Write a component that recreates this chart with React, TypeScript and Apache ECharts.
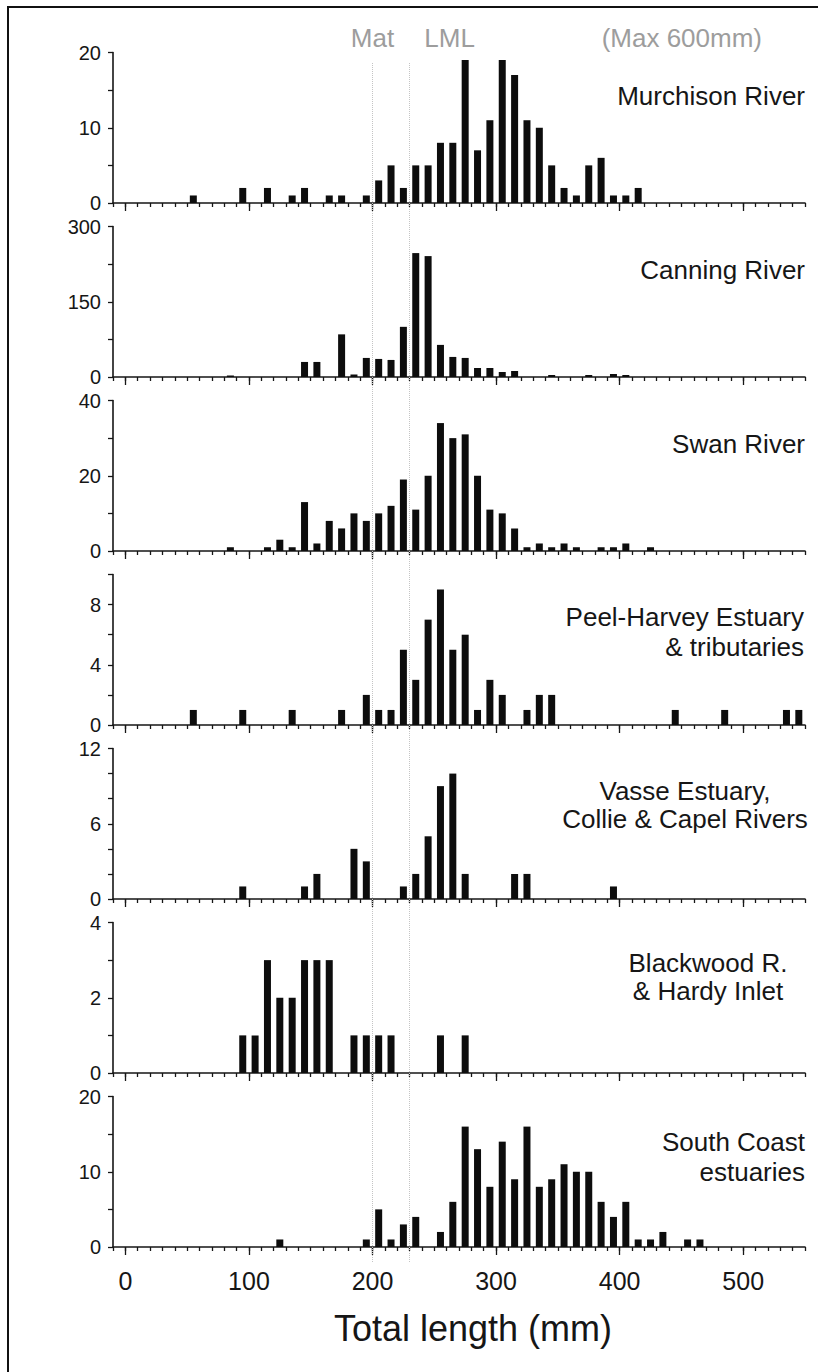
import { useEffect, useRef } from 'react';
import * as echarts from 'echarts';

// ---- Data: bin centres (mm, 10 mm bins) and counts per panel ----
const murchisonLengths = [55, 95, 115, 135, 145, 165, 175, 195, 205, 215, 225, 235, 245, 255, 265, 275, 285, 295, 305, 315, 325, 335, 345, 355, 365, 375, 385, 395, 405, 415];
const murchisonCounts = [1, 2, 2, 1, 2, 1, 1, 1, 3, 5, 2, 5, 5, 8, 8, 19, 7, 11, 19, 17, 11, 10, 5, 2, 1, 5, 6, 1, 1, 2];

const canningLengths = [85, 145, 155, 175, 185, 195, 205, 215, 225, 235, 245, 255, 265, 275, 285, 295, 305, 315, 345, 375, 395, 405];
const canningCounts = [3, 30, 30, 85, 5, 38, 36, 34, 100, 247, 241, 64, 40, 38, 18, 18, 10, 12, 4, 4, 6, 4];

const swanLengths = [85, 115, 125, 135, 145, 155, 165, 175, 185, 195, 205, 215, 225, 235, 245, 255, 265, 275, 285, 295, 305, 315, 325, 335, 345, 355, 365, 385, 395, 405, 425];
const swanCounts = [1, 1, 3, 1, 13, 2, 8, 6, 10, 8, 10, 12, 19, 11, 20, 34, 30, 31, 20, 11, 10, 6, 1, 2, 1, 2, 1, 1, 1, 2, 1];

const peelLengths = [55, 95, 135, 175, 195, 205, 215, 225, 235, 245, 255, 265, 275, 285, 295, 305, 325, 335, 345, 445, 485, 535, 545];
const peelCounts = [1, 1, 1, 1, 2, 1, 1, 5, 3, 7, 9, 5, 6, 1, 3, 2, 1, 2, 2, 1, 1, 1, 1];

const vasseLengths = [95, 145, 155, 185, 195, 225, 235, 245, 255, 265, 275, 315, 325, 395];
const vasseCounts = [1, 1, 2, 4, 3, 1, 2, 5, 9, 10, 2, 2, 2, 1];

const blackwoodLengths = [95, 105, 115, 125, 135, 145, 155, 165, 185, 195, 205, 215, 255, 275];
const blackwoodCounts = [1, 1, 3, 2, 2, 3, 3, 3, 1, 1, 1, 1, 1, 1];

const southCoastLengths = [125, 195, 205, 215, 225, 235, 255, 265, 275, 285, 295, 305, 315, 325, 335, 345, 355, 365, 375, 385, 395, 405, 415, 425, 435, 455, 465];
const southCoastCounts = [1, 1, 5, 1, 3, 4, 2, 6, 16, 13, 8, 14, 9, 16, 8, 9, 11, 10, 10, 6, 4, 6, 1, 1, 2, 1, 1];

const panelLengths = [murchisonLengths, canningLengths, swanLengths, peelLengths, vasseLengths, blackwoodLengths, southCoastLengths];
const panelCounts = [murchisonCounts, canningCounts, swanCounts, peelCounts, vasseCounts, blackwoodCounts, southCoastCounts];

const panelNames = [
  'Murchison River',
  'Canning River',
  'Swan River',
  'Peel-Harvey Estuary\n& tributaries',
  'Vasse Estuary,\nCollie & Capel Rivers',
  'Blackwood R.\n& Hardy Inlet',
  'South Coast\nestuaries',
];

// y-axis: maximum, tick step, labelled step
const yMax = [20, 300, 40, 10, 12, 4, 20];
const yTickStep = [5, 75, 10, 2, 2, 1, 5];
const yLabelStep = [10, 150, 20, 4, 6, 2, 10];

// x-axis
const X_MIN = -10;
const X_MAX = 550;
const xTickLabels = [0, 100, 200, 300, 400, 500];

const MAT_LENGTH = 200;
const LML_LENGTH = 230;

// ---- Layout / style ----
const FONT = '"Liberation Sans", Arial, Helvetica, sans-serif';
const INK = '#161616';
const GREY = '#9d9d9d';
const GRID_LEFT = 113;
const GRID_RIGHT = 13;
const PANEL_TOP0 = 52.5;
const PANEL_STEP = 174;
const PANEL_HEIGHT = 150.5;

// title anchors: [x, y, align, lineHeight]
const titleAnchors: [number, number, string, number][] = [
  [805, 96, 'right', 30],
  [805, 270, 'right', 30],
  [805, 444, 'right', 30],
  [804, 632, 'right', 30],
  [685, 805, 'center', 28],
  [708, 977, 'center', 28],
  [805, 1157, 'right', 30],
];

export default function App() {
  const ref = useRef<HTMLDivElement>(null);

  useEffect(() => {
    if (!ref.current) return;
    const chart = echarts.init(ref.current, undefined, { renderer: 'svg' });

    const grids: any[] = [];
    const xAxes: any[] = [];
    const yAxes: any[] = [];
    const series: any[] = [];

    for (let i = 0; i < 7; i++) {
      grids.push({
        left: GRID_LEFT,
        right: GRID_RIGHT,
        top: PANEL_TOP0 + PANEL_STEP * i,
        height: PANEL_HEIGHT,
        containLabel: false,
      });
      // minor ticks + axis line
      xAxes.push({
        gridIndex: i,
        type: 'value',
        min: X_MIN,
        max: X_MAX,
        interval: 10,
        position: 'bottom',
        axisLine: { show: true, onZero: false, lineStyle: { color: INK, width: 1.6 } },
        axisTick: { show: true, length: 4, lineStyle: { color: INK, width: 1.3 } },
        axisLabel: { show: false },
        splitLine: { show: false },
      });
      // major ticks + labels
      xAxes.push({
        gridIndex: i,
        type: 'value',
        min: X_MIN,
        max: X_MAX,
        position: 'bottom',
        axisLine: { show: false, onZero: false },
        axisTick: { show: true, length: 8, customValues: xTickLabels, lineStyle: { color: INK, width: 1.3 } },
        axisLabel: {
          show: i === 6,
          customValues: xTickLabels,
          fontSize: 25,
          fontFamily: FONT,
          color: INK,
          margin: 21,
        },
        splitLine: { show: false },
      });
      const labelStep = yLabelStep[i];
      yAxes.push({
        gridIndex: i,
        type: 'value',
        min: 0,
        max: yMax[i],
        interval: yTickStep[i],
        position: 'left',
        axisLine: { show: true, onZero: false, lineStyle: { color: INK, width: 1.6 } },
        axisTick: { show: true, length: 5, lineStyle: { color: INK, width: 1.3 } },
        axisLabel: {
          fontSize: 20,
          fontFamily: FONT,
          color: INK,
          margin: 12,
          formatter: (v: number) => (v % labelStep === 0 ? String(v) : ''),
        },
        splitLine: { show: false },
      });
      series.push({
        type: 'bar',
        xAxisIndex: 2 * i,
        yAxisIndex: i,
        barWidth: 7,
        z: 3,
        itemStyle: { color: '#0d0d0d' },
        data: panelLengths[i].map((len, k) => [len, panelCounts[i][k]]),
      });
    }

    // overlay grid for the vertical reference lines (Mat, LML)
    grids.push({ left: GRID_LEFT, right: GRID_RIGHT, top: 62, height: 1200, containLabel: false });
    xAxes.push({ gridIndex: 7, type: 'value', min: X_MIN, max: X_MAX, show: false });
    yAxes.push({ gridIndex: 7, type: 'value', min: 0, max: 1, show: false });
    series.push({
      type: 'line',
      xAxisIndex: 14,
      yAxisIndex: 7,
      data: [],
      z: 1,
      markLine: {
        silent: true,
        symbol: ['none', 'none'],
        label: { show: false },
        lineStyle: { type: 'dotted', color: '#c4c4c4', width: 1 },
        data: [{ xAxis: MAT_LENGTH }, { xAxis: LML_LENGTH }],
      },
    });

    chart.setOption({
      animation: false,
      backgroundColor: '#ffffff',
      grid: grids,
      xAxis: xAxes,
      yAxis: yAxes,
      series,
    });

    const matX = chart.convertToPixel({ xAxisIndex: 14 }, MAT_LENGTH) as number;
    const lmlX = chart.convertToPixel({ xAxisIndex: 14 }, LML_LENGTH) as number;

    const graphic: any[] = [
      {
        type: 'rect',
        silent: true,
        shape: { x: 8, y: 7, width: 900, height: 1500 },
        style: { fill: 'none', stroke: '#111', lineWidth: 2 },
      },
      {
        type: 'text',
        x: matX,
        y: 38,
        style: { text: 'Mat', fill: GREY, fontSize: 26, fontFamily: FONT, align: 'center', verticalAlign: 'middle' },
      },
      {
        type: 'text',
        x: lmlX + 40,
        y: 38,
        style: { text: 'LML', fill: GREY, fontSize: 26, fontFamily: FONT, align: 'center', verticalAlign: 'middle' },
      },
      {
        type: 'text',
        x: 762,
        y: 38,
        style: { text: '(Max 600mm)', fill: GREY, fontSize: 26, fontFamily: FONT, align: 'right', verticalAlign: 'middle' },
      },
      {
        type: 'text',
        x: 473,
        y: 1328,
        style: { text: 'Total length (mm)', fill: INK, fontSize: 36, fontFamily: FONT, align: 'center', verticalAlign: 'middle' },
      },
    ];
    panelNames.forEach((name, i) => {
      const [x, y, align, lh] = titleAnchors[i];
      graphic.push({
        type: 'text',
        x,
        y,
        style: {
          text: name,
          fill: INK,
          fontSize: 26,
          fontFamily: FONT,
          align,
          verticalAlign: 'middle',
          lineHeight: lh,
        },
      });
    });

    chart.setOption({ graphic });

    return () => {
      chart.dispose();
    };
  }, []);

  return (
    <div
      ref={ref}
      style={{ position: 'absolute', left: 0, top: 0, width: 818, height: 1372, background: '#fff' }}
    />
  );
}
